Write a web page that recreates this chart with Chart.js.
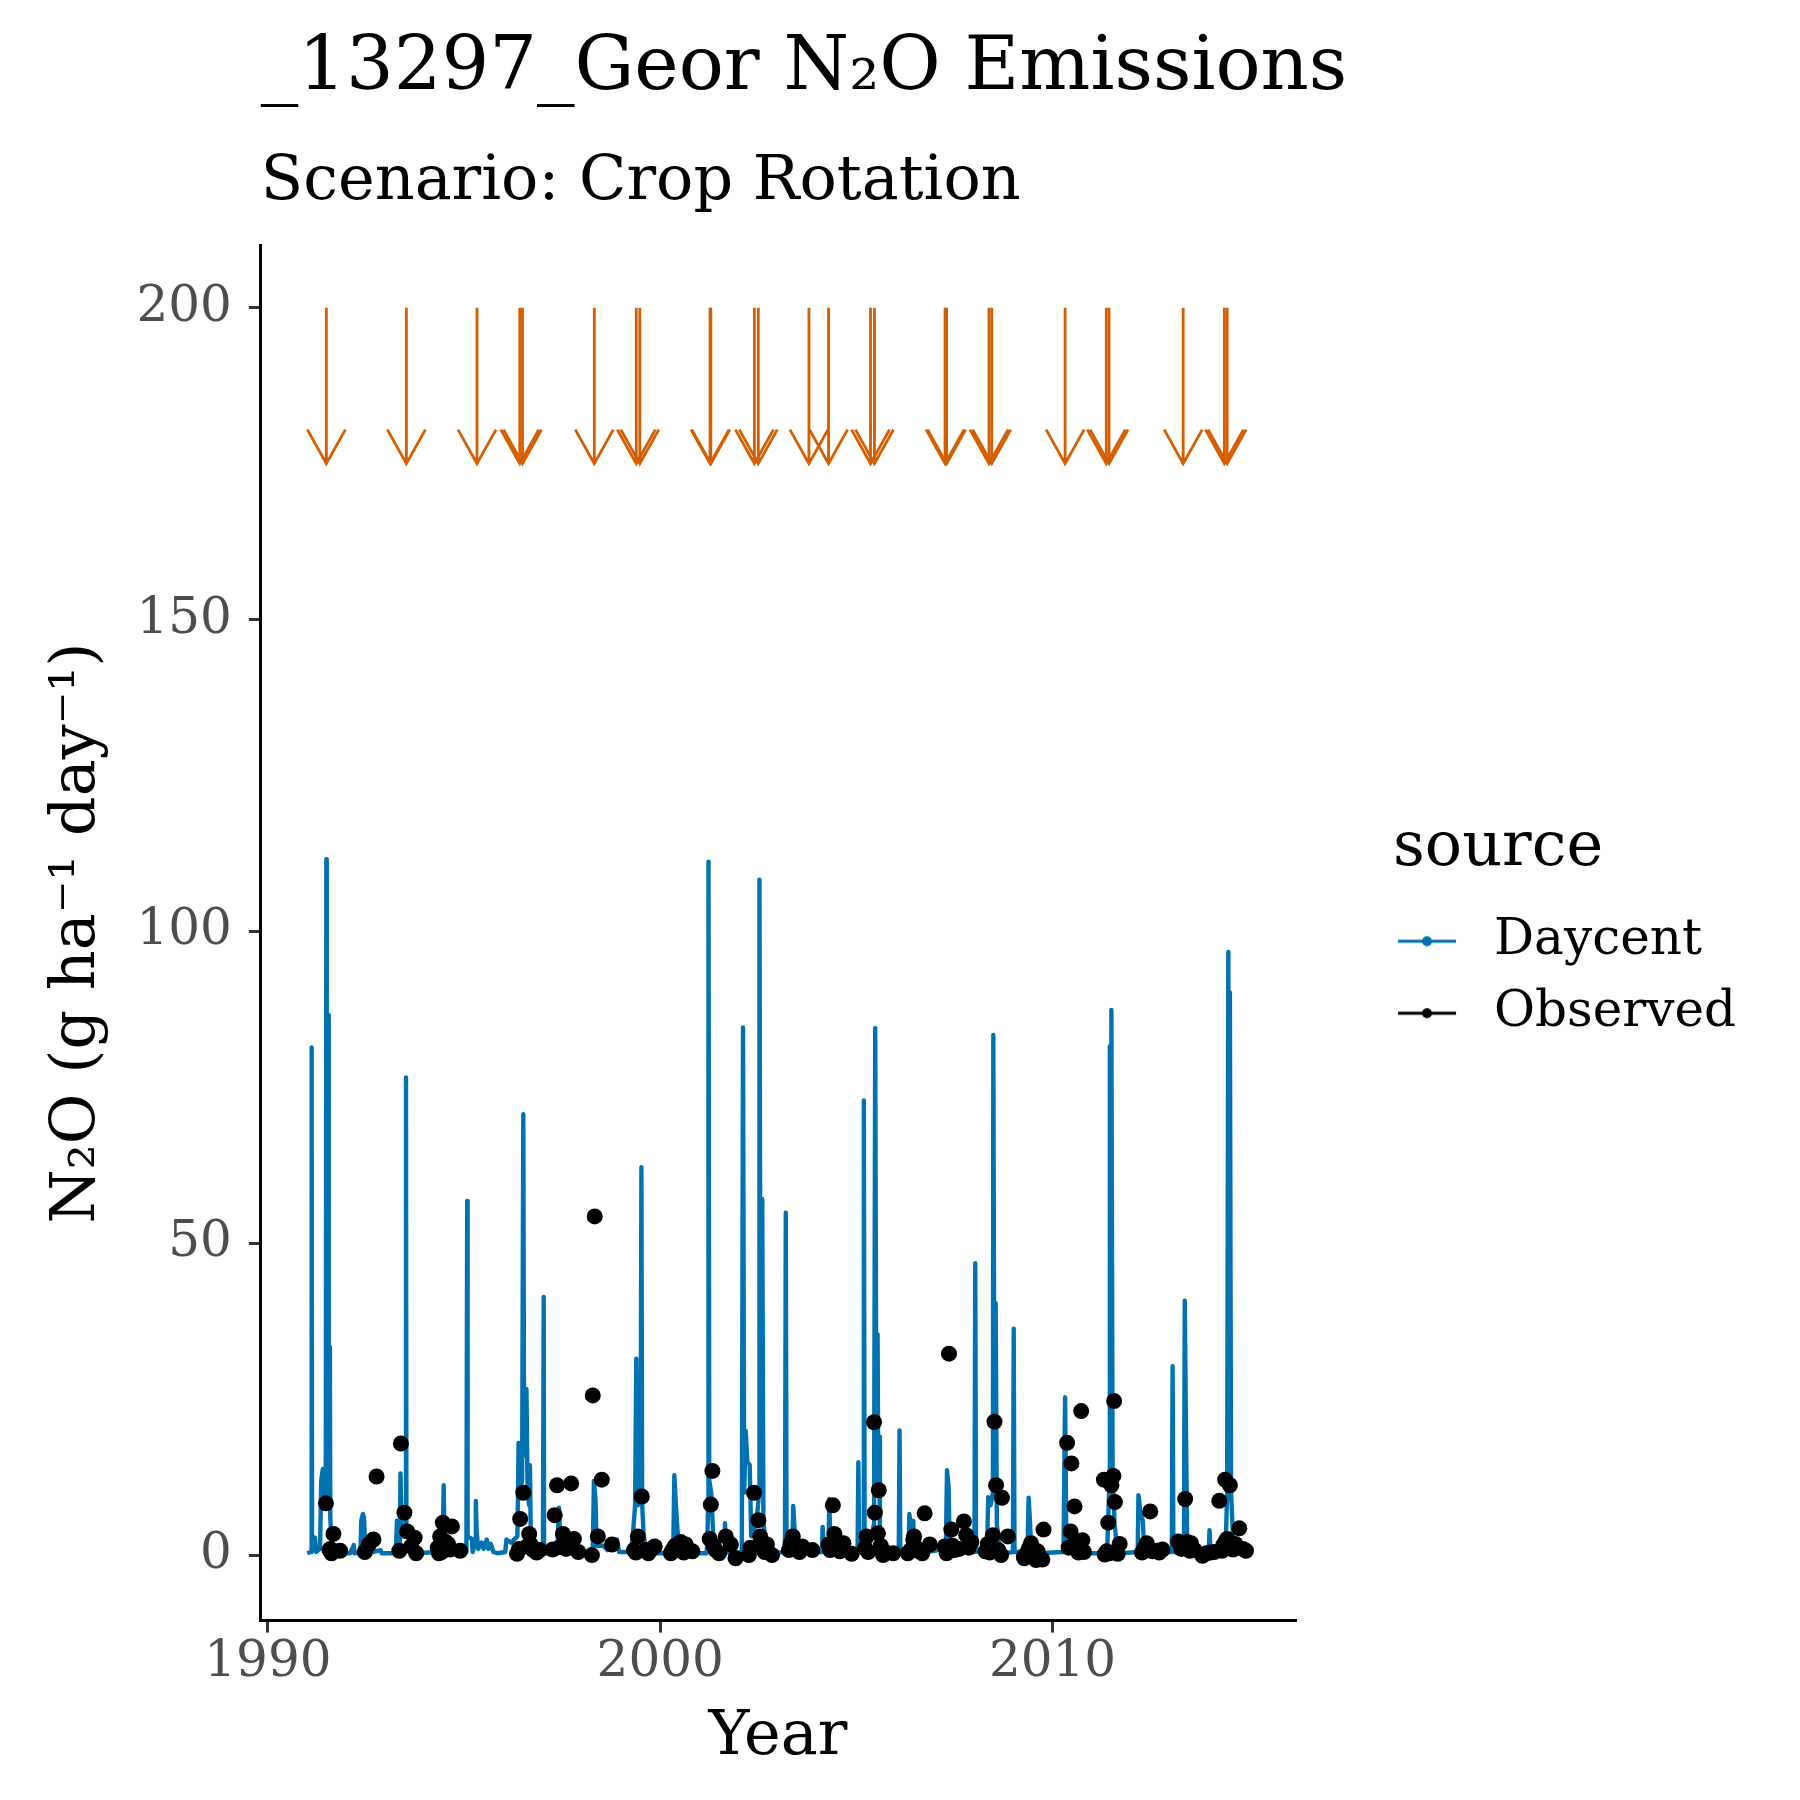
<!DOCTYPE html>
<html>
<head>
<meta charset="utf-8">
<title>N2O Emissions</title>
<script src="https://cdn.jsdelivr.net/npm/chart.js@4.4.1/dist/chart.umd.min.js"></script>
<style>
  html, body { margin: 0; padding: 0; background: #ffffff; }
  #wrap { width: 1800px; height: 1800px; }
</style>
</head>
<body>
<div id="wrap"><canvas id="chart" width="1800" height="1800"></canvas></div>
<script>
// Daycent daily N2O (decimal year, g ha-1 day-1), one line per event
const dayYear = [
  1991.00, 1991.10, 1991.115, 1991.125, 1991.14, 1991.17, 1991.20, 1991.23,
  1991.33, 1991.36, 1991.40, 1991.43, 1991.475, 1991.49, 1991.50, 1991.53, 1991.54, 1991.55,
  1991.575, 1991.58, 1991.59, 1991.62, 1991.70, 1991.80,
  1992.10, 1992.19, 1992.21, 1992.36, 1992.38, 1992.42, 1992.45, 1992.48, 1992.55, 1992.87, 1992.90,
  1993.26, 1993.29, 1993.31, 1993.36, 1993.38, 1993.41, 1993.50, 1993.52, 1993.53, 1993.57, 1993.62, 1993.70,
  1994.40, 1994.46, 1994.48, 1994.50, 1994.58, 1994.65, 1994.85, 1994.88, 1994.90,
  1995.06, 1995.08, 1995.09, 1995.20, 1995.22, 1995.28, 1995.30, 1995.32, 1995.36, 1995.45, 1995.50, 1995.58, 1995.62, 1995.68, 1995.75, 1995.85,
  1996.05, 1996.08, 1996.20, 1996.36, 1996.39, 1996.42, 1996.48, 1996.51, 1996.53, 1996.57, 1996.59, 1996.62, 1996.66, 1996.68, 1996.70, 1996.78, 1996.90,
  1997.01, 1997.03, 1997.04, 1997.10, 1997.36, 1997.38, 1997.42, 1997.45, 1997.52, 1997.60,
  1998.26, 1998.28, 1998.31, 1998.35, 1998.38, 1998.55, 1998.65, 1998.75, 1998.90, 1998.95,
  1999.25, 1999.30, 1999.36, 1999.39, 1999.43, 1999.50, 1999.52, 1999.54, 1999.58, 1999.65, 1999.80,
  2000.31, 2000.33, 2000.36, 2000.40, 2000.44, 2000.48, 2000.60,
  2001.18, 2001.20, 2001.22, 2001.23, 2001.25, 2001.30, 2001.36, 2001.45, 2001.55, 2001.63, 2001.65, 2001.68, 2001.80,
  2002.08, 2002.11, 2002.14, 2002.18, 2002.22, 2002.28, 2002.32, 2002.45, 2002.52, 2002.53, 2002.56, 2002.60, 2002.63, 2002.68, 2002.80,
  2003.18, 2003.20, 2003.22, 2003.30, 2003.37, 2003.39, 2003.42, 2003.46, 2003.60,
  2004.12, 2004.14, 2004.17, 2004.22, 2004.29, 2004.31, 2004.34, 2004.45,
  2005.03, 2005.05, 2005.07, 2005.17, 2005.19, 2005.21, 2005.30, 2005.45, 2005.48, 2005.51, 2005.54, 2005.56, 2005.58, 2005.60, 2005.70,
  2006.08, 2006.10, 2006.12, 2006.33, 2006.35, 2006.40, 2006.45, 2006.48, 2006.60,
  2007.28, 2007.31, 2007.35, 2007.38, 2007.50,
  2008.01, 2008.03, 2008.05, 2008.33, 2008.36, 2008.42, 2008.48, 2008.49, 2008.52, 2008.55, 2008.58, 2008.65, 2008.75,
  2008.99, 2009.01, 2009.03, 2009.36, 2009.39, 2009.42, 2009.46, 2009.60,
  2010.28, 2010.30, 2010.32, 2010.35, 2010.42, 2010.55,
  2011.35, 2011.40, 2011.44, 2011.46, 2011.48, 2011.50, 2011.53, 2011.58, 2011.65, 2011.75,
  2012.17, 2012.19, 2012.24, 2012.30, 2012.34, 2012.45,
  2013.04, 2013.06, 2013.08, 2013.33, 2013.35, 2013.37, 2013.40, 2013.43, 2013.50,
  2013.98, 2014.00, 2014.03, 2014.40, 2014.42, 2014.45, 2014.48, 2014.50, 2014.52, 2014.55, 2014.60, 2014.70, 2014.80, 2014.95
];
const dayN2O = [
  0.3, 0.5, 81.4, 3, 2.5, 0.8, 2.8, 0.5,
  1, 12, 13.8, 8, 10, 111.6, 12, 10, 86.6, 10,
  8, 33.4, 6, 2, 0.5, 0.3,
  0.3, 1.6, 0.3, 0.5, 5.5, 6.6, 6, 1, 0.3, 0.8, 0.3,
  0.3, 5.5, 0.8, 1, 13.1, 3, 3, 76.6, 5, 4, 1, 0.3,
  0.5, 4, 11.2, 3, 1, 0.3, 0.3, 1, 0.3,
  0.5, 56.8, 3, 2.6, 0.5, 2, 8.7, 4, 1, 2, 1, 2.5, 1, 1.8, 0.5, 0.3,
  0.5, 2.5, 2, 3, 18.0, 10, 12, 70.7, 18, 16, 26.6, 10, 8, 14.4, 3, 0.5, 0.3,
  0.5, 41.4, 1, 0.3, 0.5, 1, 7.6, 3, 1, 0.3,
  0.3, 0.5, 11.9, 9, 1.5, 1.5, 0.8, 1.2, 2.5, 0.5,
  0.5, 3, 8, 31.5, 8, 10, 62.2, 8, 3, 0.5, 0.3,
  0.3, 0.5, 12.8, 8, 4, 0.5, 0.3,
  0.3, 2, 8, 111.2, 12, 10, 2, 0.5, 0.3, 0.5, 5.1, 0.5, 0.3,
  0.5, 84.6, 10, 19.9, 14.9, 14.5, 3, 5, 10, 108.3, 12, 57.1, 6, 1, 0.3,
  0.5, 54.9, 1, 0.3, 2, 7.9, 4.5, 1, 0.3,
  0.5, 4.5, 1, 0.3, 1, 9, 1, 0.3,
  0.5, 14.9, 1, 1, 72.9, 2, 0.5, 5, 84.5, 15, 35.4, 10, 19, 3, 0.3,
  0.5, 20.0, 0.5, 0.5, 6.6, 4, 5.5, 0.5, 0.3,
  1, 13.6, 11, 1, 0.3,
  0.5, 46.8, 0.5, 1, 9.3, 8, 10, 83.4, 12, 40.4, 5, 1, 0.3,
  0.5, 36.3, 0.5, 0.5, 9.2, 6, 0.5, 0.3,
  0.5, 14, 25.3, 3, 1, 0.3,
  0.3, 2, 10, 81.6, 12, 87.4, 14, 5, 1, 0.3,
  0.5, 9.6, 7, 5.5, 0.5, 0.3,
  0.5, 30.3, 0.5, 0.5, 2, 40.8, 20.6, 3, 0.3,
  0.3, 4, 0.5, 0.5, 3, 10, 96.7, 12, 90.2, 10, 3, 1, 0.3, 0.3
];

// Observed N2O measurements
const obsYear = [
  1991.48, 1991.57, 1991.59, 1991.62, 1991.67, 1991.84, 1992.47, 1992.57, 1992.69, 1992.77,
  1993.35, 1993.39, 1993.48, 1993.55, 1993.65, 1993.74, 1993.78, 1994.33, 1994.36, 1994.39,
  1994.43, 1994.46, 1994.52, 1994.59, 1994.64, 1994.69, 1994.90, 1996.35, 1996.40, 1996.43,
  1996.51, 1996.60, 1996.66, 1996.70, 1996.76, 1996.85, 1996.93, 1997.26, 1997.31, 1997.37,
  1997.45, 1997.52, 1997.60, 1997.73, 1997.80, 1997.91, 1998.26, 1998.28, 1998.33, 1998.41,
  1998.51, 1998.77, 1999.33, 1999.38, 1999.43, 1999.53, 1999.62, 1999.70, 1999.81, 1999.86,
  2000.27, 2000.31, 2000.38, 2000.45, 2000.52, 2000.60, 2000.65, 2000.82, 2001.26, 2001.29,
  2001.33, 2001.36, 2001.41, 2001.50, 2001.67, 2001.80, 2001.92, 2002.26, 2002.30, 2002.39,
  2002.50, 2002.55, 2002.60, 2002.66, 2002.72, 2002.85, 2003.28, 2003.32, 2003.38, 2003.45,
  2003.55, 2003.62, 2003.88, 2004.29, 2004.33, 2004.40, 2004.44, 2004.50, 2004.58, 2004.67,
  2004.88, 2005.22, 2005.26, 2005.30, 2005.45, 2005.47, 2005.55, 2005.57, 2005.62, 2005.68,
  2005.75, 2005.94, 2006.31, 2006.38, 2006.45, 2006.47, 2006.52, 2006.60, 2006.68, 2006.74,
  2006.87, 2007.25, 2007.30, 2007.36, 2007.42, 2007.45, 2007.50, 2007.62, 2007.74, 2007.80,
  2007.86, 2007.93, 2008.29, 2008.35, 2008.40, 2008.48, 2008.52, 2008.56, 2008.62, 2008.69,
  2008.71, 2008.86, 2009.27, 2009.28, 2009.35, 2009.40, 2009.45, 2009.50, 2009.58, 2009.62,
  2009.74, 2009.77, 2010.37, 2010.41, 2010.46, 2010.48, 2010.52, 2010.56, 2010.66, 2010.73,
  2010.76, 2010.80, 2011.31, 2011.33, 2011.38, 2011.42, 2011.45, 2011.50, 2011.55, 2011.57,
  2011.59, 2011.62, 2011.66, 2011.71, 2012.28, 2012.33, 2012.40, 2012.49, 2012.55, 2012.66,
  2012.72, 2012.80, 2013.20, 2013.28, 2013.38, 2013.43, 2013.50, 2013.53, 2013.62, 2013.82,
  2013.92, 2014.03, 2014.12, 2014.25, 2014.32, 2014.35, 2014.40, 2014.41, 2014.45, 2014.52,
  2014.60, 2014.66, 2014.76, 2014.85, 2014.93
];
const obsN2O = [
  8.3, 0.8, 1.0, 0.3, 3.4, 0.7, 0.5, 1.7, 2.5, 12.6,
  0.7, 17.9, 6.8, 3.8, 1.4, 2.8, 0.3, 1.2, 0.3, 3.0,
  0.5, 5.2, 2.2, 1.8, 0.9, 4.6, 0.7, 0.2, 1.0, 5.8,
  10.0, 1.4, 3.4, 1.7, 0.8, 0.4, 0.8, 0.9, 6.4, 11.2,
  1.3, 3.4, 1.0, 11.5, 2.6, 0.5, 0.0, 25.6, 54.3, 3.0,
  12.1, 1.7, 0.8, 0.4, 3.0, 9.4, 0.8, 0.3, 1.1, 1.4,
  0.3, 0.8, 1.5, 0.9, 2.1, 0.4, 1.7, 0.6, 2.6, 8.1,
  13.5, 1.5, 0.8, 0.3, 3.0, 1.7, -0.5, 0.0, 1.2, 10.0,
  5.6, 3.0, 1.6, 0.5, 1.7, 0.0, 0.8, 1.8, 3.0, 1.0,
  0.5, 1.4, 0.8, 1.7, 0.8, 8.0, 3.4, 1.2, 0.6, 1.9,
  0.2, 1.1, 3.0, 0.5, 21.3, 6.8, 3.5, 10.4, 1.5, 0.0,
  0.4, 0.3, 0.3, 0.8, 2.5, 3.0, 1.2, 0.6, 0.3, 6.7,
  1.7, 1.4, 0.3, 32.3, 4.1, 1.5, 0.8, 1.0, 5.4, 3.2,
  1.2, 2.1, 0.6, 1.8, 0.4, 3.2, 21.4, 11.2, 0.8, 0.0,
  9.2, 3.0, -0.3, -0.5, 0.4, 1.1, 1.9, 0.2, -0.8, 0.6,
  -0.7, 4.1, 18.0, 1.2, 3.8, 14.7, 1.5, 7.8, 0.4, 23.1,
  2.4, 0.5, 12.1, 0.1, 0.6, 5.2, 0.3, 11.2, 12.7, 24.7,
  8.5, 0.6, 0.2, 1.8, 0.4, 1.0, 1.9, 7.0, 0.6, 0.7,
  0.4, 0.9, 2.2, 1.0, 9.0, 2.1, 0.7, 1.9, 0.8, -0.1,
  0.3, 0.4, 0.5, 8.7, 0.7, 1.6, 12.1, 2.2, 2.6, 11.2,
  0.9, 1.8, 4.3, 1.0, 0.7
];

// management events (arrows from 200 down to 175)
const arrowYears = [
  1991.49, 1993.53, 1995.33, 1996.42, 1996.49, 1998.32, 1999.39, 1999.48,
  2001.27, 2001.29, 2002.40, 2002.50, 2003.79, 2004.29, 2005.36, 2005.46,
  2007.26, 2007.30, 2008.38, 2008.45, 2010.32, 2011.37, 2011.44, 2013.33,
  2014.38, 2014.45
];
const arrowFrom = 200;
const arrowTo = 175;

const xTicks = [1990, 2000, 2010];
const yTicks = [0, 50, 100, 150, 200];

const FONT = "'DejaVu Serif', 'Liberation Serif', serif";
const blue = '#0072B2';
const orange = '#D55E00';
const legendGap = 98;

// legend key: line with a dot, like ggplot's combined key
function legendKey(color) {
  const c = document.createElement('canvas');
  c.width = 88;
  c.height = 14;
  const g = c.getContext('2d');
  g.strokeStyle = color;
  g.lineWidth = 2.8;
  g.beginPath();
  g.moveTo(0, 7);
  g.lineTo(58, 7);
  g.stroke();
  g.fillStyle = color;
  g.beginPath();
  g.arc(29, 7, 5, 0, Math.PI * 2);
  g.fill();
  return c;
}

const arrowPlugin = {
  id: 'eventArrows',
  afterDatasetsDraw(chart) {
    const { ctx, scales: { x, y } } = chart;
    ctx.save();
    ctx.strokeStyle = orange;
    ctx.lineWidth = 2.8;
    arrowYears.forEach(yr => {
      const px = x.getPixelForValue(yr);
      const top = y.getPixelForValue(arrowFrom);
      const tip = y.getPixelForValue(arrowTo);
      ctx.beginPath();
      ctx.moveTo(px, top);
      ctx.lineTo(px, tip);
      ctx.moveTo(px - 19, tip - 34);
      ctx.lineTo(px, tip);
      ctx.lineTo(px + 19, tip - 34);
      ctx.stroke();
    });
    ctx.restore();
  }
};

// ggplot-like placement: titles start at the panel edge, legend sits a bit off the panel
const layoutPlugin = {
  id: 'ggLayout',
  afterLayout(chart) {
    const area = chart.chartArea;
    chart.boxes.forEach(b => {
      if (b.position === 'top') b.left = area.left;
    });
    if (chart.legend) {
      chart.legend.left += legendGap;
      chart.legend.right += legendGap;
    }
  }
};

const axisTicks = { display: true, drawOnChartArea: false, drawTicks: true, tickLength: 12, tickColor: '#333333', tickWidth: 3, lineWidth: 3 };

new Chart(document.getElementById('chart').getContext('2d'), {
  type: 'line',
  data: {
    datasets: [
      {
        label: 'Daycent',
        data: dayYear.map((x, i) => ({ x, y: dayN2O[i] })),
        borderColor: blue,
        backgroundColor: blue,
        borderWidth: 4.4,
        borderJoinStyle: 'round',
        pointRadius: 0,
        tension: 0,
        order: 1
      },
      {
        label: 'Observed',
        data: obsYear.map((x, i) => ({ x, y: obsN2O[i] })),
        showLine: false,
        borderColor: '#000000',
        backgroundColor: '#000000',
        pointRadius: 8,
        pointBorderWidth: 0,
        order: 0
      }
    ]
  },
  options: {
    responsive: false,
    animation: false,
    devicePixelRatio: 1,
    layout: { padding: { top: 0, left: 0, bottom: 0, right: 152 } },
    scales: {
      x: {
        type: 'linear',
        min: 1989.82,
        max: 2016.18,
        afterBuildTicks: s => { s.ticks = xTicks.map(v => ({ value: v })); },
        grid: axisTicks,
        border: { display: true, color: '#000000', width: 3 },
        ticks: { color: '#4D4D4D', padding: 0, font: { family: FONT, size: 50 }, maxRotation: 0, callback: v => String(v) },
        title: { display: true, text: 'Year', color: '#000000', font: { family: FONT, size: 62 }, padding: { top: 8, bottom: 25 } }
      },
      y: {
        type: 'linear',
        min: -10.5,
        max: 210,
        afterBuildTicks: s => { s.ticks = yTicks.map(v => ({ value: v })); },
        grid: axisTicks,
        border: { display: true, color: '#000000', width: 3 },
        ticks: { color: '#4D4D4D', padding: 17, font: { family: FONT, size: 50 }, callback: v => String(v) },
        title: { display: true, text: 'N₂O (g ha⁻¹ day⁻¹)', color: '#000000', font: { family: FONT, size: 62 }, padding: { top: 41, bottom: 4 } }
      }
    },
    plugins: {
      title: {
        display: true,
        align: 'start',
        text: '_13297_Geor N₂O Emissions',
        color: '#000000',
        font: { family: FONT, size: 75, weight: 'normal' },
        padding: { top: 25, bottom: 0 }
      },
      subtitle: {
        display: true,
        align: 'start',
        text: 'Scenario: Crop Rotation',
        color: '#000000',
        font: { family: FONT, size: 62 },
        padding: { top: 31, bottom: 25 }
      },
      legend: {
        position: 'right',
        align: 'center',
        title: { display: true, text: 'source', position: 'start', color: '#000000', font: { family: FONT, size: 62 }, padding: { top: 78, bottom: 2 } },
        labels: {
          color: '#000000',
          font: { family: FONT, size: 50 },
          padding: 22,
          usePointStyle: true,
          pointStyleWidth: 54,
          generateLabels: chart => chart.data.datasets.map((ds, i) => ({
            text: ds.label,
            datasetIndex: i,
            pointStyle: legendKey(ds.borderColor),
            fillStyle: ds.borderColor,
            strokeStyle: ds.borderColor,
            lineWidth: 0,
            hidden: false
          }))
        }
      },
      tooltip: { enabled: false }
    }
  },
  plugins: [arrowPlugin, layoutPlugin]
});
</script>
</body>
</html>
